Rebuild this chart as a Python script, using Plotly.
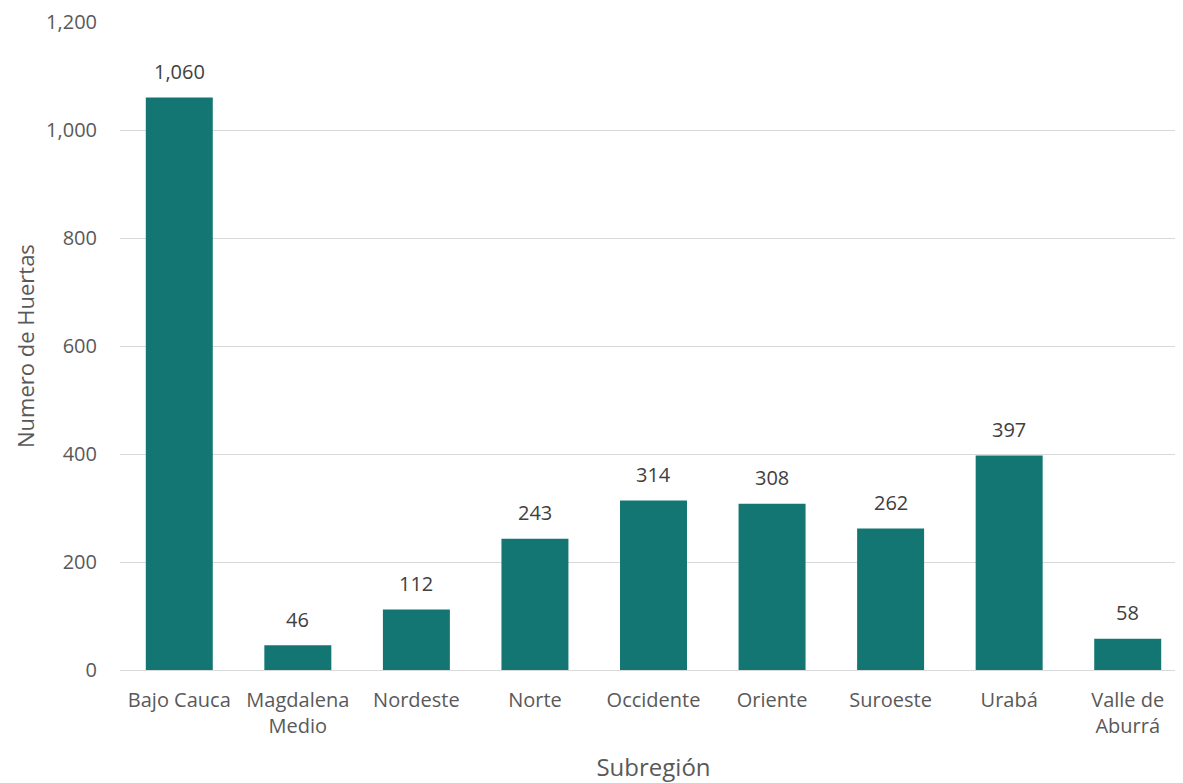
import plotly.graph_objects as go

subregiones = ["Bajo Cauca", "Magdalena<br>Medio", "Nordeste", "Norte", "Occidente",
               "Oriente", "Suroeste", "Urabá", "Valle de<br>Aburrá"]
huertas = [1060, 46, 112, 243, 314, 308, 262, 397, 58]
y_ticks = [0, 200, 400, 600, 800, 1000, 1200]

font_gray = "#595959"
bar_color = "#137673"

fig = go.Figure()
fig.add_trace(go.Bar(x=subregiones, y=huertas, marker_color=bar_color,
                     marker_line_width=0))

# data labels sit a bit above each bar, like the Excel original
for cat, val in zip(subregiones, huertas):
    fig.add_annotation(x=cat, y=val, text=f"{val:,}", showarrow=False,
                       yshift=26, font=dict(size=20, color="#404040"))

# y title as annotation so it can sit near the left edge
fig.add_annotation(text="Numero de Huertas", xref="paper", yref="paper",
                   x=0, y=0.5, xshift=-95, xanchor="center", yanchor="middle",
                   textangle=-90, showarrow=False,
                   font=dict(family="Open Sans", size=22, color=font_gray))

# page has an 8px body margin; plot runs slightly past the window on the right
fig.update_layout(
    width=1179, height=775,
    margin=dict(l=112, r=0, t=14, b=113),
    plot_bgcolor="white", paper_bgcolor="white",
    font=dict(family="Open Sans", size=20, color=font_gray),
    bargap=0.435,
    showlegend=False,
)
fig.update_xaxes(
    title=dict(text="Subregión", standoff=26),
    showgrid=False, ticks="", showline=False,
    ticklabelstandoff=16, automargin=False,
)
fig.update_yaxes(
    range=[0, 1200], tickvals=y_ticks, tickformat=",",
    gridcolor="#d9d9d9", gridwidth=1.3,
    zeroline=True, zerolinecolor="#d9d9d9", zerolinewidth=1.3,
    showline=False, ticks="", ticklabelstandoff=22, automargin=False,
)

fig.write_html("out.html")
